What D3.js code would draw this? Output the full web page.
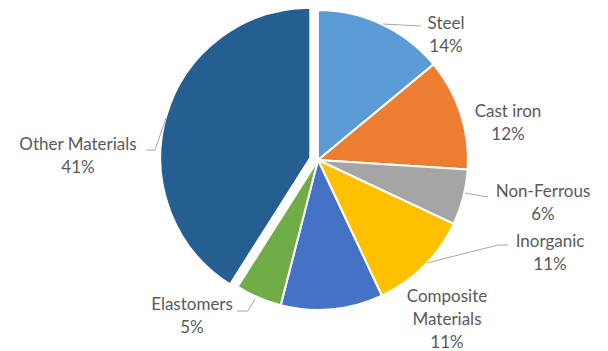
<!DOCTYPE html>
<html>
<head>
<meta charset="utf-8">
<script src="https://cdn.jsdelivr.net/npm/d3@7"></script>
<style>
  html, body { margin: 0; padding: 0; background: #ffffff; }
  svg { display: block; }
</style>
</head>
<body>
<svg id="chart" width="608" height="351"></svg>
<script>
// ---- data ----
const categories = ["Steel", "Cast iron", "Non-Ferrous", "Inorganic", "Composite Materials", "Elastomers", "Other Materials"];
const values = [14, 12, 6, 11, 11, 5, 41];
const colors = ["#5B9BD5", "#ED7D31", "#A5A5A5", "#FFC000", "#4472C4", "#70AD47", "#255E91"];
const labelLines = [["Steel"], ["Cast iron"], ["Non-Ferrous"], ["Inorganic"], ["Composite", "Materials"], ["Elastomers"], ["Other Materials"]];
const exploded = [0, 0, 0, 0, 0, 0, 8];

// ---- layout (label anchors & leader lines, pixel coords) ----
const labelPos = [[446, 29], [508, 117], [543, 197], [550, 247], [447, 302], [192, 310], [78, 150]];
const leaders = [
  [[383, 24], [421, 26]],
  null,
  [[465, 193], [488, 197]],
  [[427, 263], [498, 245], [508, 245]],
  null,
  [[237, 311], [248, 311], [255, 299]],
  [[146, 150], [155, 150], [166, 118]]
];

const cx = 318, cy = 160, R = 150;
const svg = d3.select("#chart");
const g = svg.append("g").attr("transform", `translate(${cx},${cy})`);

const pie = d3.pie().sort(null).value(d => d.v);
const arcs = pie(values.map((v, i) => ({ v, i })));
const arc = d3.arc().innerRadius(0).outerRadius(R);

g.selectAll("path.slice")
  .data(arcs)
  .join("path")
  .attr("class", "slice")
  .attr("d", arc)
  .attr("fill", d => colors[d.data.i])
  .attr("stroke", "#ffffff")
  .attr("stroke-width", 2)
  .attr("stroke-linejoin", "round")
  .attr("transform", d => {
    const m = (d.startAngle + d.endAngle) / 2;
    const off = exploded[d.data.i];
    return `translate(${Math.sin(m) * off},${-Math.cos(m) * off})`;
  });

// leader lines
const line = d3.line();
svg.selectAll("path.leader")
  .data(leaders.filter(l => l))
  .join("path")
  .attr("class", "leader")
  .attr("d", d => line(d))
  .attr("fill", "none")
  .attr("stroke", "#A6A6A6")
  .attr("stroke-width", 1);

// labels
const lab = svg.selectAll("text.lbl")
  .data(categories)
  .join("text")
  .attr("class", "lbl")
  .attr("text-anchor", "middle")
  .attr("font-family", "Lato, 'Open Sans', sans-serif")
  .attr("font-size", "17px")
  .attr("fill", "#595959");

lab.each(function(c, i) {
  const t = d3.select(this);
  const [x, y] = labelPos[i];
  const lines = labelLines[i].concat([values[i] + "%"]);
  lines.forEach((s, k) => {
    t.append("tspan").attr("x", x).attr("y", y + k * 23).text(s);
  });
});
</script>
</body>
</html>
